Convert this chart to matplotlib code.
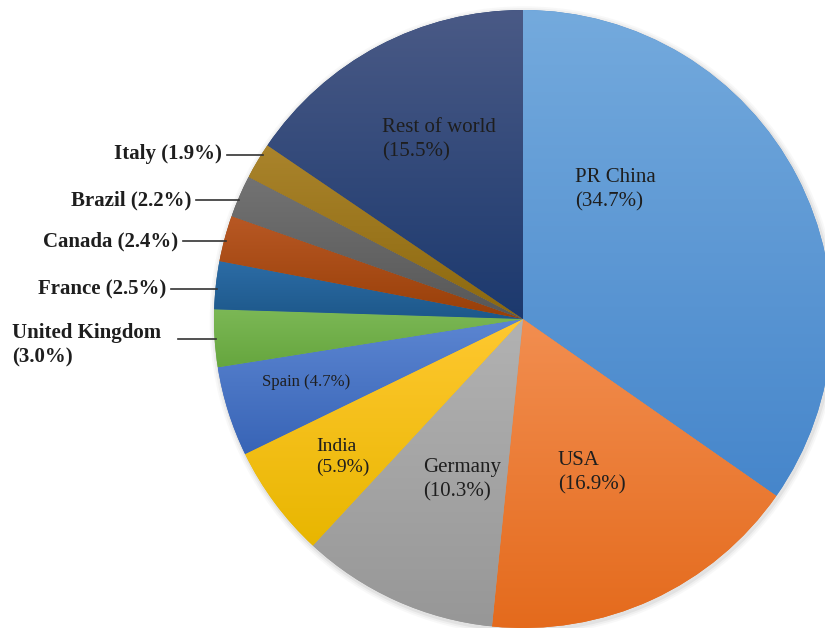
import numpy as np
import matplotlib.pyplot as plt
import matplotlib.colors as mcolors

# share of world total, clockwise from 12 o'clock
countries = ['PR China', 'USA', 'Germany', 'India', 'Spain', 'United Kingdom',
             'France', 'Canada', 'Brazil', 'Italy', 'Rest of world']
shares = [34.7, 16.9, 10.3, 5.9, 4.7, 3.0, 2.5, 2.4, 2.2, 1.9, 15.5]

# gradient colours (top, bottom) for each wedge, Excel style
tops = ['#74aadd', '#f28e50', '#b2b2b2', '#ffc830', '#5c86d2', '#7cb856',
        '#2c6ca6', '#b85824', '#737373', '#aa842c', '#4a5a86']
bottoms = ['#4686cb', '#e46a1c', '#979797', '#e8b600', '#3864b6', '#66a63e',
           '#1d588a', '#983f08', '#575757', '#8c680e', '#1c396e']

# pixel geometry of the original picture
W, H = 825, 628
cx, cy, R = 523, 319, 309


def px(x, y):
    # pixel coords (from top left) -> data coords (pie radius = 1)
    return (x - cx) / R, (cy - y) / R


fig = plt.figure(figsize=(W / 100, H / 100), dpi=100)
ax = fig.add_axes([0, 0, 1, 1])
ax.set_aspect('equal')
ax.axis('off')

# soft shadow round the pie
for r, a in [(1.018, 0.05), (1.012, 0.08), (1.006, 0.12)]:
    ax.add_patch(plt.Circle((0.004, -0.006), r, color='#888888', alpha=a, lw=0, zorder=0))

wedges, _ = ax.pie(shares, startangle=90, counterclock=False, radius=1,
                   colors=bottoms, wedgeprops=dict(linewidth=0), frame=False)
ax.set_xlim(-cx / R, (W - cx) / R)
ax.set_ylim(-(H - cy) / R, cy / R)

# vertical gradient in each wedge
for w, top, bot in zip(wedges, tops, bottoms):
    verts = w.get_path().vertices
    x0, x1 = verts[:, 0].min(), verts[:, 0].max()
    y0, y1 = verts[:, 1].min(), verts[:, 1].max()
    c1 = np.array(mcolors.to_rgb(top))
    c2 = np.array(mcolors.to_rgb(bot))
    t = np.linspace(0, 1, 256)[:, None]
    img = (c1 * (1 - t) + c2 * t)[:, None, :]
    im = ax.imshow(img, extent=[x0, x1, y0, y1], origin='upper',
                   aspect='auto', interpolation='bilinear', zorder=2)
    im.set_clip_path(w)

serif = ['Liberation Serif', 'DejaVu Serif']
txt = '#1e1e1e'

# labels inside the pie
inside = [
    ('PR China\n(34.7%)', 575, 190, 15, 1.38),
    ('USA\n(16.9%)', 558, 473, 15, 1.38),
    ('Germany\n(10.3%)', 423, 480, 15, 1.38),
    ('India\n(5.9%)', 316, 457, 14, 1.35),
    ('Spain (4.7%)', 262, 382, 12, 1.2),
    ('Rest of world\n(15.5%)', 382, 140, 15, 1.38),
]
for s, x, y, fs, ls in inside:
    ax.text(*px(x, y), s, ha='left', va='center', fontsize=fs,
            family=serif, color=txt, linespacing=ls, zorder=5)

# bold labels outside with leader lines
outside = [
    ('Italy (1.9%)', 222, 154, 155),
    ('Brazil (2.2%)', 191, 200, 200),
    ('Canada (2.4%)', 178, 241, 241),
    ('France (2.5%)', 166, 289, 289),
]
for s, x, y, ly in outside:
    ax.text(*px(x, y), s, ha='right', va='center', fontsize=15,
            family=serif, fontweight='bold', color=txt, zorder=5)
    lx, lyd = px(x + 5, ly)
    ex = -np.sqrt(1 - lyd ** 2) + 0.005
    ax.plot([lx, ex], [lyd, lyd], color='#333333', lw=1.2, zorder=4)

ax.text(*px(12, 345), 'United Kingdom\n(3.0%)', ha='left', va='center',
        fontsize=15, family=serif, fontweight='bold', color=txt,
        linespacing=1.32, zorder=5)
lx, lyd = px(178, 339)
ax.plot([lx, -np.sqrt(1 - lyd ** 2) + 0.005], [lyd, lyd],
        color='#333333', lw=1.2, zorder=4)

fig.savefig('out.png', dpi=100)
